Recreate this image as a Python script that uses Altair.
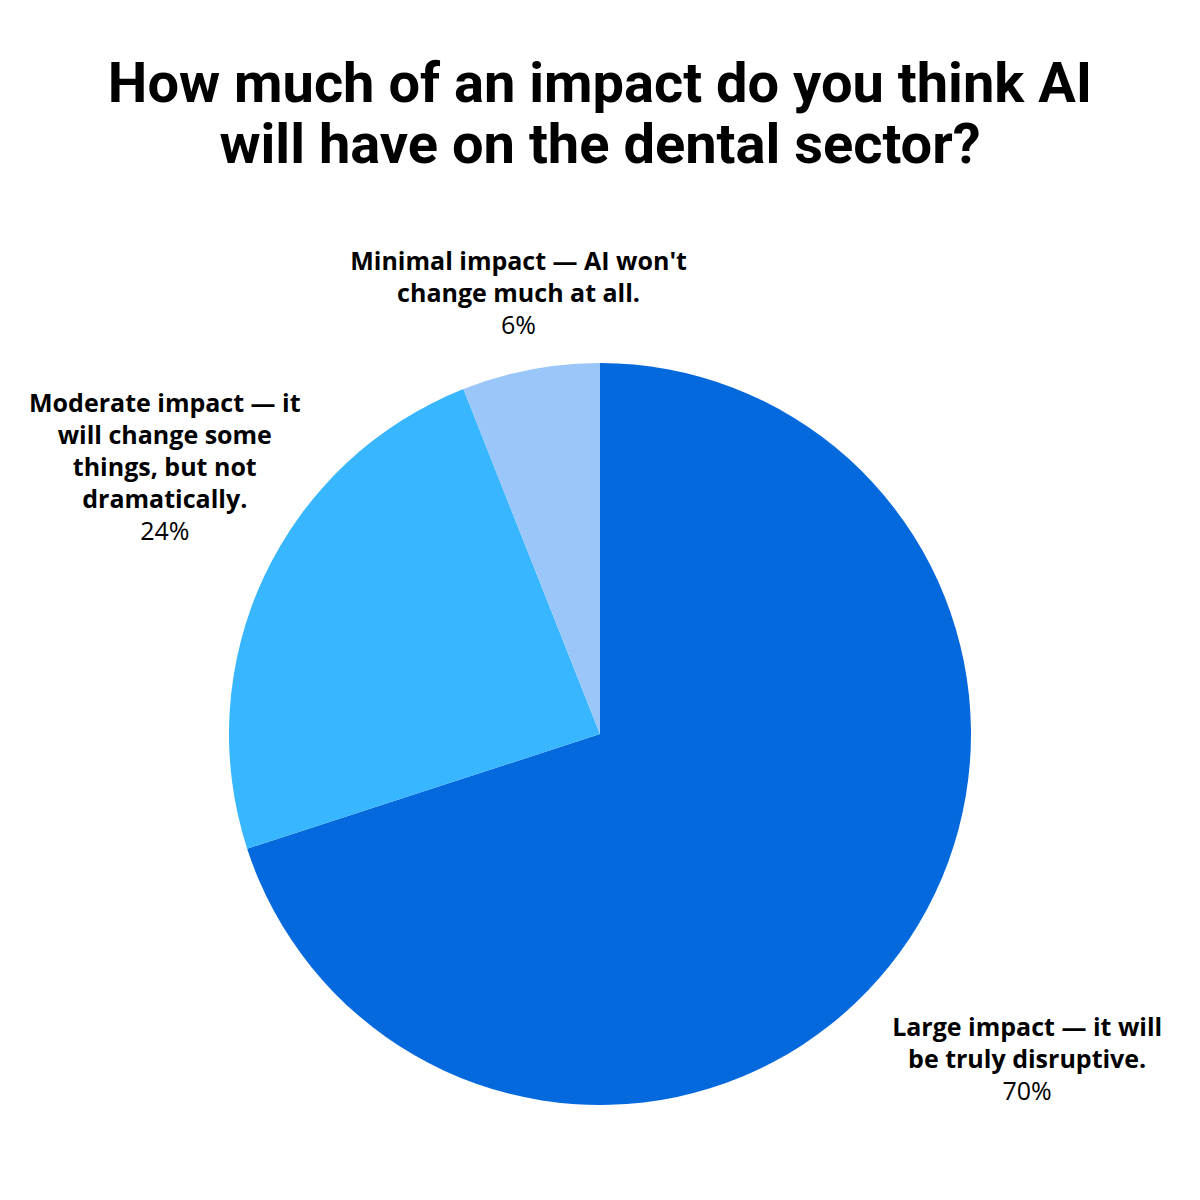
import altair as alt
import pandas as pd

categories = ["Large impact", "Moderate impact", "Minimal impact"]
values = [70, 24, 6]
orders = [0, 1, 2]
label_lines = [
    ["Large impact — it will", "be truly disruptive."],
    ["Moderate impact — it", "will change some", "things, but not", "dramatically."],
    ["Minimal impact — AI won't", "change much at all."],
]
pct_labels = ["70%", "24%", "6%"]
colors = ["#0569DE", "#38B6FF", "#9AC6F9"]
title_lines = ["How much of an impact do you think AI", "will have on the dental sector?"]

df = pd.DataFrame({
    "cat": categories,
    "value": values,
    "ord": orders,
    "label": ["\n".join(l) for l in label_lines],
    "pct": pct_labels,
})

W = 1184
PAD_TOP = 268
H = 916  # view center y = 268 + 458 = 726 on canvas

base = alt.Chart(df)

theta = alt.Theta("value:Q", stack=True)
order = alt.Order("ord:Q", sort="ascending")

arc = base.mark_arc(outerRadius=371, stroke=None).encode(
    theta=theta,
    order=order,
    color=alt.Color("cat:N", scale=alt.Scale(domain=categories, range=colors), legend=None),
)

LABEL_FONT = "Open Sans"
LH = 32

# per-category label placement: radius, dx, dy, percent offset
place = {
    "Large impact": (528, 0, -8, 64),
    "Moderate impact": (481, 0, -117, 128),
    "Minimal impact": (472, 7, 0, 64),
}

layers = [arc]
for cat in categories:
    r, dx, dy, pdy = place[cat]
    lab = base.mark_text(
        radius=r, dx=dx, dy=dy, align="center", baseline="alphabetic",
        font=LABEL_FONT, fontWeight="bold", fontSize=25, lineHeight=LH,
        lineBreak="\n", color="#000000",
    ).encode(
        theta=theta,
        order=order,
        text=alt.condition(alt.datum.cat == cat, alt.Text("label:N"), alt.value("")),
    )
    pct = base.mark_text(
        radius=r, dx=dx, dy=dy + pdy, align="center", baseline="alphabetic",
        font=LABEL_FONT, fontWeight="normal", fontSize=25, color="#000000",
    ).encode(
        theta=theta,
        order=order,
        text=alt.condition(alt.datum.cat == cat, alt.Text("pct:N"), alt.value("")),
    )
    layers += [lab, pct]

title_df = pd.DataFrame({"t": title_lines, "i": [0, 1]})
title_baselines = [94, 155]
for i, tb in enumerate(title_baselines):
    layers.append(
        alt.Chart(title_df).transform_filter(alt.datum.i == i).mark_text(
            align="center", baseline="alphabetic", font="Roboto", fontWeight="bold",
            fontSize=56, color="#000000",
        ).encode(
            text="t:N",
            x=alt.value(W / 2),
            y=alt.value(tb - PAD_TOP),
        )
    )

chart = alt.layer(*layers).properties(
    width=W, height=H,
    autosize=alt.AutoSizeParams(type="none"),
    padding={"top": PAD_TOP, "left": 0, "right": 0, "bottom": 0},
    background="#FFFFFF",
).configure_view(stroke=None)

chart.save("out.html", embed_options={"renderer": "svg", "actions": False})
